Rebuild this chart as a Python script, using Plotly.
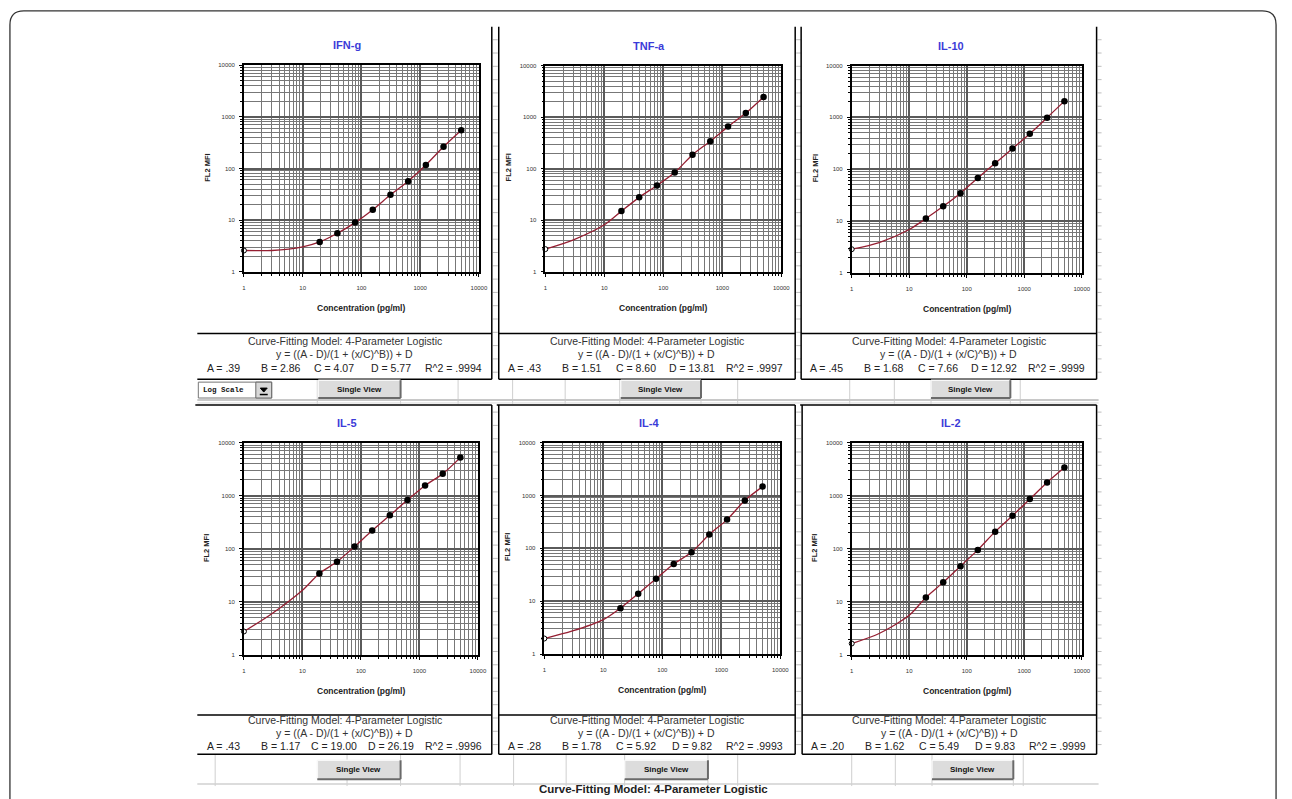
import plotly.graph_objects as go

W, H = 1292, 799

# ---------------- data ----------------
titles = ["IFN-g", "TNF-a", "IL-10", "IL-5", "IL-4", "IL-2"]
conc = [19.5, 39, 78, 156, 312.5, 625, 1250, 2500, 5000]
blank_conc = [1]
ifn_g = [3.8, 5.6, 9.0, 16, 31, 57, 117, 263, 549]
tnf_a = [15.1, 27.9, 47.5, 84.4, 187, 342, 655, 1198, 2466]
il_10 = [11.2, 19.3, 34.6, 67.8, 131, 250, 483, 989, 2057]
il_5 = [34.5, 57, 111, 221, 428, 829, 1563, 2585, 5231]
il_4 = [7.4, 13.9, 26.6, 50.8, 84.1, 183, 350, 806, 1475]
il_2 = [12.2, 23.4, 47.3, 95.7, 211, 422, 866, 1778, 3398]
blank_mfi = [2.6, 2.77, 2.87, 2.78, 1.97, 1.65]
# fitted curve at low concentrations
fit_low_conc = [3, 10]
ifn_g_fit_low = [2.6, 3.05]
tnf_a_fit_low = [4.2, 8.2]
il_10_fit_low = [3.85, 6.9]
il_5_fit_low = [6.0, 16.6]
il_4_fit_low = [2.74, 4.5]
il_2_fit_low = [2.55, 5.6]
A_vals = [".39", ".43", ".45", ".43", ".28", ".20"]
B_vals = ["2.86", "1.51", "1.68", "1.17", "1.78", "1.62"]
C_vals = ["4.07", "8.60", "7.66", "19.00", "5.92", "5.49"]
D_vals = ["5.77", "13.81", "12.92", "26.19", "9.82", "9.83"]
R2_vals = [".9994", ".9997", ".9999", ".9996", ".9993", ".9999"]
tick_vals = [1, 10, 100, 1000, 10000]
tick_text = ["1", "10", "100", "1000", "10000"]

series = [ifn_g, tnf_a, il_10, il_5, il_4, il_2]
fits_low = [ifn_g_fit_low, tnf_a_fit_low, il_10_fit_low, il_5_fit_low, il_4_fit_low, il_2_fit_low]

# ---------------- layout geometry (pixels) ----------------
plot_px = [(244, 481, 62.5, 271), (548, 786, 63, 271), (857, 1089, 63, 272),
           (244, 480, 443, 657), (547, 785, 443, 656), (857, 1089, 443, 657)]
# left, right, top, bottom, divider
frame_px = [(197, 494, 24, 379, 333), (501, 800, 24, 379, 333), (806, 1104, 24, 379, 333),
            (197, 494, 405, 757, 717.5), (501, 800, 405, 757, 717.5), (807, 1104, 405, 757, 717.5)]
text_rows = [(341, 354, 367.5)] * 3 + [(722.5, 736, 749)] * 3
buttons_px = [(319, 402, 380, 398), (624, 705, 380, 398), (937, 1017, 380, 398),
              (318, 402, 763, 782), (628, 712, 763, 782), (938, 1020, 763, 782)]

FONT = "Arial, 'Liberation Sans', sans-serif"


def fx(x):
    return x / W


def fy(y):
    return 1 - y / H


fig = go.Figure()
shapes = []
annotations = []


def line(x0, y0, x1, y1, color="black", width=1.5, layer="above"):
    shapes.append(dict(type="line", xref="paper", yref="paper",
                       x0=fx(x0), y0=fy(y0), x1=fx(x1), y1=fy(y1),
                       line=dict(color=color, width=width), layer=layer))


def text(x, y, s, size=9, color="#222", bold=False, family=FONT, angle=0, xanchor="center"):
    annotations.append(dict(xref="paper", yref="paper", x=fx(x), y=fy(y), text=("<b>%s</b>" % s) if bold else s,
                            showarrow=False, font=dict(size=size, color=color, family=family),
                            xanchor=xanchor, yanchor="middle", textangle=angle))


# spreadsheet background lines (faint)
for xv in [318, 402, 460, 515, 568, 623, 705, 742, 855, 900, 937, 1017, 1027]:
    line(xv, 379, xv, 404, color="#cfcfcf", width=1, layer="below")
for xv in [215, 348, 402, 462, 516, 569, 628, 712, 742, 857, 901, 938, 1020, 1030]:
    line(xv, 757, xv, 789, color="#cfcfcf", width=1, layer="below")
line(197, 400, 1106, 400, color="#c8c8c8", width=2, layer="below")
line(197, 403, 1106, 403, color="#d8d8d8", width=1, layer="below")
line(197, 787, 1106, 787, color="#d0d0d0", width=1.5, layer="below")
# row marks visible in the gaps between the chart frames
y = 37.0
while y < 757:
    if not (378 < y < 405):
        for (a, b) in [(495, 500), (801, 806), (1105, 1109)]:
            line(a, y, b, y, color="#bdbdbd", width=1, layer="below")
    y += 13.4

# outer rounded border
x0b, x1b, y0b, ybb, r = 8, 1285, 8, 830, 14
path = ("M %f,%f L %f,%f Q %f,%f %f,%f L %f,%f Q %f,%f %f,%f L %f,%f" % (
    fx(x0b), fy(ybb), fx(x0b), fy(y0b + r), fx(x0b), fy(y0b), fx(x0b + r), fy(y0b),
    fx(x1b - r), fy(y0b), fx(x1b), fy(y0b), fx(x1b), fy(y0b + r), fx(x1b), fy(ybb)))
shapes.append(dict(type="path", xref="paper", yref="paper", path=path,
                   line=dict(color="#333", width=1.3)))

layout_axes = {}
for i in range(6):
    k = "" if i == 0 else str(i + 1)
    xl, xr, yt, yb = plot_px[i]
    common = dict(type="log", range=[0, 4], tickvals=tick_vals, ticktext=tick_text,
                  showgrid=True, gridcolor="#5a5a5a", gridwidth=1.8,
                  showline=True, linecolor="black", linewidth=1.6, mirror=True,
                  ticks="outside", ticklen=3, tickcolor="black", tickwidth=1,
                  tickfont=dict(size=6, color="#333", family=FONT),
                  minor=dict(dtick="D1", showgrid=True, gridcolor="#777777", gridwidth=1,
                             ticks="outside", ticklen=2, tickcolor="black"),
                  zeroline=False, fixedrange=True)
    layout_axes["xaxis" + k] = dict(common, domain=[fx(xl), fx(xr)], anchor="y" + k,
                                    ticklabelstandoff=6)
    layout_axes["yaxis" + k] = dict(common, domain=[fy(yb), fy(yt)], anchor="x" + k,
                                    ticklabelstandoff=3)

    xs = "x" + k
    ys = "y" + k
    # fitted curve
    cx = blank_conc + fit_low_conc + conc
    cy = [blank_mfi[i]] + fits_low[i] + series[i]
    fig.add_trace(go.Scatter(x=cx, y=cy, xaxis=xs, yaxis=ys, mode="lines",
                             line=dict(color="#951f32", width=1.3, shape="spline", smoothing=0.8),
                             hoverinfo="skip"))
    # standards
    fig.add_trace(go.Scatter(x=conc, y=series[i], xaxis=xs, yaxis=ys, mode="markers",
                             marker=dict(color="black", size=6.5), name=titles[i]))
    # blank
    fig.add_trace(go.Scatter(x=blank_conc, y=[blank_mfi[i]], xaxis=xs, yaxis=ys, mode="markers",
                             marker=dict(color="white", size=5, line=dict(color="black", width=1)),
                             cliponaxis=False))

    # frame
    fl, fr, ft, fb, fd = frame_px[i]
    if i % 3 != 0:
        line(fl, ft, fl, fb)
    line(fr, ft, fr, fb)
    if i >= 3:
        line(fl - 2, ft, fr, ft)
    line(fl, fd, fr, fd)
    line(fl, fb, fr, fb)

    cxp = (fl + fr) / 2
    r1, r2, r3 = text_rows[i]
    # titles and axis titles
    text(cxp + 2, yt - 20, titles[i], size=11, color="#3b3bd8", bold=True)
    text((xl + xr) / 2, yb + 36, "Concentration (pg/ml)", size=8.5, color="#222", bold=True)
    text(xl - 37, (yt + yb) / 2 - 1, "FL2 MFI", size=7.5, color="#222", bold=True, angle=-90)
    # fit text box
    text(cxp, r1, "Curve-Fitting Model: 4-Parameter Logistic", size=10.5, color="#333")
    text(cxp, r2, "y = ((A - D)/(1 + (x/C)^B)) + D", size=10.5, color="#333")
    ptxt = ["A = " + A_vals[i], "B = " + B_vals[i], "C = " + C_vals[i], "D = " + D_vals[i],
            "R^2 = " + R2_vals[i]]
    for off, s in zip([26, 84, 138, 195, 258], ptxt):
        text(fl + off, r3, s, size=10.5, color="#222")

    # "Single View" button
    bl, br, bt, bb = buttons_px[i]
    shapes.append(dict(type="rect", xref="paper", yref="paper", x0=fx(bl), x1=fx(br), y0=fy(bb), y1=fy(bt),
                       fillcolor="#dcdcdc", line=dict(width=0), layer="above"))
    line(bl, bt, br, bt, color="#f8f8f8", width=1.5)
    line(bl, bt, bl, bb, color="#f8f8f8", width=1.5)
    line(bl, bb, br, bb, color="#6a6a6a", width=2)
    line(br, bt, br, bb, color="#6a6a6a", width=2)
    text((bl + br) / 2, (bt + bb) / 2, "Single View", size=8, color="#111", bold=True)

# "Log Scale" drop-down
shapes.append(dict(type="rect", xref="paper", yref="paper", x0=fx(198), x1=fx(272), y0=fy(398), y1=fy(382),
                   fillcolor="white", line=dict(color="#777", width=1)))
shapes.append(dict(type="rect", xref="paper", yref="paper", x0=fx(256), x1=fx(272), y0=fy(398), y1=fy(382),
                   fillcolor="#d8d8d8", line=dict(color="#666", width=1)))
shapes.append(dict(type="path", xref="paper", yref="paper",
                   path="M %f,%f L %f,%f L %f,%f Z" % (fx(260.5), fy(388), fx(267.5), fy(388), fx(264), fy(392)),
                   fillcolor="black", line=dict(color="black", width=1)))
line(260, 394.5, 268, 394.5, color="black", width=1.5)
text(201, 390, "Log Scale", size=7.5, color="#111", bold=True,
     family="'Liberation Mono', 'DejaVu Sans Mono', monospace", xanchor="left")

# bottom caption
text(657, 792, "Curve-Fitting Model: 4-Parameter Logistic", size=11.5, color="#222", bold=True)

fig.update_layout(width=W, height=H, margin=dict(l=0, r=0, t=0, b=0),
                  paper_bgcolor="white", plot_bgcolor="white", showlegend=False,
                  shapes=shapes, annotations=annotations, **layout_axes)

fig.write_html("out.html", config={"displayModeBar": False},
               post_script="document.body.style.margin='0';document.body.style.overflow='hidden';")
